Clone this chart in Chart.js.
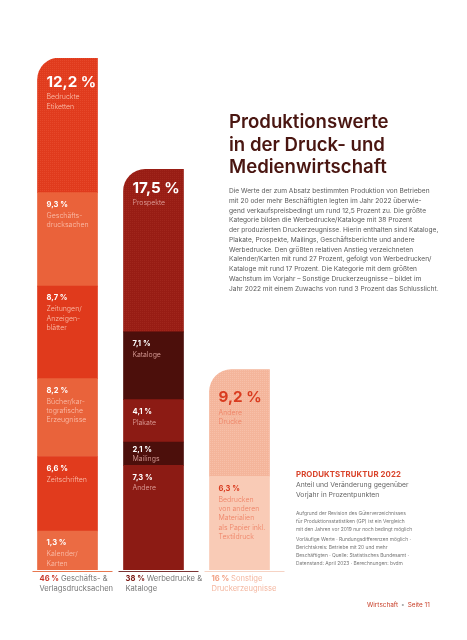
<!DOCTYPE html>
<html lang="de">
<head>
<meta charset="utf-8">
<script src="https://cdn.jsdelivr.net/npm/chart.js@4.4.1/dist/chart.umd.min.js"></script>
<style>
  body { margin: 0; background: #fff; font-family: Inter, "Noto Sans", sans-serif; }
  #page { position: relative; width: 467px; height: 640px; overflow: hidden; }
  #chart { position: absolute; left: 0; top: 0; }
  .txt { position: absolute; white-space: nowrap; }
  #title { left: 229px; top: 110px; font-size: 18.6px; line-height: 22.5px; font-weight: 600; color: #4a1611; }
  #body { left: 229px; top: 187px; font-size: 6.6px; line-height: 9.75px; color: #5a5a5a; }
  #head { left: 296px; top: 469px; font-size: 7.8px; font-weight: 700; color: #d9432a; letter-spacing: 0.1px; }
  #sub { left: 296px; top: 480px; font-size: 6.8px; line-height: 9.5px; color: #666; }
  #notes { left: 296px; top: 509px; font-size: 4.9px; line-height: 8px; color: #777; }
  #foot { left: 367px; top: 601px; font-size: 6.4px; color: #c8402a; }
  #foot span { color: #aaa; margin: 0 3px; }
</style>
</head>
<body>
<div id="page">
  <canvas id="chart" width="467" height="640"></canvas>
  <div class="txt" id="title">Produktionswerte<br>in der Druck- und<br>Medienwirtschaft</div>
  <div class="txt" id="body">Die Werte der zum Absatz bestimmten Produktion von Betrieben<br>mit 20 oder mehr Beschäftigten legten im Jahr 2022 überwie-<br>gend verkaufspreisbedingt um rund 12,5 Prozent zu. Die größte<br>Kategorie bilden die Werbedrucke/Kataloge mit 38 Prozent<br>der produzierten Druckerzeugnisse. Hierin enthalten sind Kataloge,<br>Plakate, Prospekte, Mailings, Geschäftsberichte und andere<br>Werbedrucke. Den größten relativen Anstieg verzeichneten<br>Kalender/Karten mit rund 27 Prozent, gefolgt von Werbedrucken/<br>Kataloge mit rund 17 Prozent. Die Kategorie mit dem größten<br>Wachstum im Vorjahr – Sonstige Druckerzeugnisse – bildet im<br>Jahr 2022 mit einem Zuwachs von rund 3 Prozent das Schlusslicht.</div>
  <div class="txt" id="head">PRODUKTSTRUKTUR 2022</div>
  <div class="txt" id="sub">Anteil und Veränderung gegenüber<br>Vorjahr in Prozentpunkten</div>
  <div class="txt" id="notes">Aufgrund der Revision des Güterverzeichnisses<br>für Produktionsstatistiken (GP) ist ein Vergleich<br>mit den Jahren vor 2019 nur noch bedingt möglich<br><span style="display:block;height:2px"></span>Vorläufige Werte · Rundungsdifferenzen möglich ·<br>Berichtskreis: Betriebe mit 20 und mehr<br>Beschäftigten · Quelle: Statistisches Bundesamt ·<br>Datenstand: April 2023 · Berechnungen: bvdm</div>
  <div class="txt" id="foot">Wirtschaft<span>•</span>Seite 11</div>
</div>
<script>
// columns (share of total production, %)
const columns = ["Geschäfts- &\nVerlagsdrucksachen", "Werbedrucke &\nKataloge", "Sonstige\nDruckerzeugnisse"];
const columnTotals = [46, 38, 16];

// segments, bottom to top within each column
const segmentNames = [
  "Kalender/\nKarten", "Zeitschriften", "Bücher/kar-\ntografische\nErzeugnisse",
  "Zeitungen/\nAnzeigen-\nblätter", "Geschäfts-\ndrucksachen", "Bedruckte\nEtiketten",
  "Andere", "Mailings", "Plakate", "Kataloge", "Prospekte",
  "Bedrucken\nvon anderen\nMaterialien\nals Papier inkl.\nTextildruck", "Andere\nDrucke"
];
const segmentColumn = [0, 0, 0, 0, 0, 0, 1, 1, 1, 1, 1, 2, 2];
const segmentShare = [3.5, 6.7, 7.0, 8.3, 8.4, 12.1, 9.4, 2.1, 3.8, 6.1, 14.6, 8.4, 9.6];
const segmentChange = [1.3, 6.6, 8.2, 8.7, 9.3, 12.2, 7.3, 2.1, 4.1, 7.1, 17.5, 6.3, 9.2];

// styling
const segmentColors = ["#eb6b43", "#e13b1d", "#e9633b", "#e03a1c", "#ea623a", "#e03b1d",
  "#8c1b14", "#4c0f0b", "#8c1b14", "#4c0f0b", "#981d14", "#f9cbb6", "#f4b59b"];
const topTint = ["#e6482a", "#a0261c", "#f7c0a9"];
const pctColor = ["#ffffff", "#ffffff", "#d93b1f"];
const nameColor = ["#fbc1ae", "#e2a6a0", "#ee7f62"];
const baseLine = ["#e8774f", "#7c3434", "#f6d3c4"];
const totalColor = ["#c8392a", "#7d1b16", "#f2a184"];
const captionColor = ["#777777", "#777777", "#f4b7a0"];
const bigOffset = [24, 19, 28];

function isTop(i) {
  return i === segmentColumn.length - 1 || segmentColumn[i + 1] !== segmentColumn[i];
}

function dots(base, light) {
  const c = document.createElement("canvas");
  c.width = 2;
  c.height = 2;
  const g = c.getContext("2d");
  g.fillStyle = base;
  g.fillRect(0, 0, 2, 2);
  g.fillStyle = light;
  g.fillRect(0, 0, 1, 1);
  return g.createPattern(c, "repeat");
}

const fmt = (v) => v.toFixed(1).replace(".", ",") + " %";

const datasets = segmentNames.map((name, i) => {
  const data = columns.map((_, c) => (c === segmentColumn[i] ? segmentShare[i] : null));
  const col = segmentColumn[i];
  return {
    label: name.replace(/\n/g, " "),
    data: data,
    backgroundColor: isTop(i) ? dots(segmentColors[i], topTint[col]) : segmentColors[i],
    borderWidth: 0,
    borderSkipped: "start",
    borderRadius: isTop(i) ? { topLeft: 22, topRight: 0, bottomLeft: 0, bottomRight: 0 } : 0,
    stack: "s",
    barThickness: 60,
  };
});

const labelPlugin = {
  id: "segLabels",
  afterDatasetsDraw(chart) {
    const ctx = chart.ctx;
    const yZero = chart.scales.y.getPixelForValue(0);
    ctx.save();
    ctx.textBaseline = "middle";
    ctx.textAlign = "left";

    // labels inside the segments
    segmentNames.forEach((name, i) => {
      const col = segmentColumn[i];
      const el = chart.getDatasetMeta(i).data[col];
      if (!el) return;
      const left = el.x - el.width / 2 + 9;
      const top = Math.min(el.y, el.base);
      const h = Math.abs(el.base - el.y);
      let py, gap;
      if (isTop(i)) {
        py = top + bigOffset[col];
        gap = 15;
        ctx.font = "700 15.2px Inter";
      } else {
        py = top + (h < 30 ? 8 : 12);
        gap = h < 30 ? 9 : 11;
        ctx.font = "700 7.6px Inter";
      }
      ctx.fillStyle = pctColor[col];
      ctx.fillText(fmt(segmentChange[i]), left, py);
      ctx.font = "300 7px Inter";
      ctx.fillStyle = nameColor[col];
      name.split("\n").forEach((line, k) => {
        ctx.fillText(line, left, py + gap + k * 9.4);
      });
    });

    // base lines and column captions
    columns.forEach((label, c) => {
      const idx = segmentColumn.indexOf(c);
      const el = chart.getDatasetMeta(idx).data[c];
      const x0 = el.x - el.width / 2;
      ctx.strokeStyle = baseLine[c];
      ctx.lineWidth = 1;
      ctx.beginPath();
      ctx.moveTo(x0 - 5, yZero + 1.5);
      ctx.lineTo(x0 + el.width + 15, yZero + 1.5);
      ctx.stroke();

      const lines = label.split("\n");
      const tx = x0 + 2;
      ctx.font = "700 7.6px Inter";
      const total = columnTotals[c] + " %";
      ctx.fillStyle = totalColor[c];
      ctx.fillText(total, tx, yZero + 9);
      const w = ctx.measureText(total + " ").width;
      ctx.font = "400 7.6px Inter";
      ctx.fillStyle = captionColor[c];
      ctx.fillText(lines[0], tx + w, yZero + 9);
      ctx.fillText(lines[1], tx, yZero + 19);
    });
    ctx.restore();
  },
};

new Chart("chart", {
  type: "bar",
  data: {
    labels: columns.map((l) => l.replace("\n", " ")),
    datasets: datasets,
  },
  options: {
    responsive: false,
    animation: false,
    layout: { padding: { left: 24.5, right: 184.5, top: 58, bottom: 70 } },
    plugins: {
      legend: { display: false },
      tooltip: { enabled: false },
      title: { display: false },
    },
    scales: {
      x: { stacked: true, display: false },
      y: { stacked: true, display: false, min: 0, max: 46 },
    },
  },
  plugins: [labelPlugin],
});
</script>
</body>
</html>
